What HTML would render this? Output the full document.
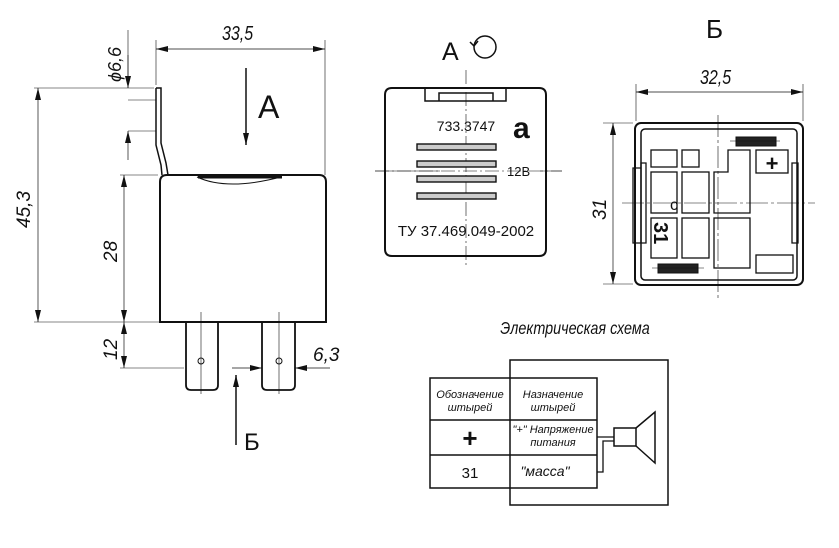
<!DOCTYPE html>
<html><head><meta charset="utf-8"><style>
html,body{margin:0;padding:0;background:#fff}
svg{display:block}
text{font-family:"Liberation Sans","DejaVu Sans",sans-serif;fill:#111}
.i{font-style:italic}
</style></head><body>
<svg width="839" height="548" viewBox="0 0 839 548" xmlns="http://www.w3.org/2000/svg">
<defs>
<marker id="a" viewBox="0 0 12 6" refX="12" refY="3" markerWidth="12" markerHeight="6" orient="auto-start-reverse" markerUnits="userSpaceOnUse"><path d="M0,0L12,3L0,6z" fill="#111"/></marker>
</defs>
<g stroke="#111" fill="none" stroke-width="1">
<path d="M160,322V182q0-7 7-7H319q7 0 7 7V322Z" stroke-width="2"/>
<path d="M197,177q30,14 84,0" stroke-width="1"/>
<path d="M198,177h84" stroke-width="3"/>
<path d="M156,88h5v55l5,20 2,12M156,88v57l5,20 1,10" stroke-width="1.5"/>
<path d="M186,322v63q0,5 5,5h22q5,0 5-5v-63M262,322v63q0,5 5,5h23q5,0 5-5v-63" stroke-width="1.8"/>
<circle cx="201" cy="361" r="3"/><circle cx="279" cy="361" r="3"/>
<path d="M201,312v82M279,312v82" stroke-width=".6"/>
<path d="M156,40v45M325,40v135" stroke-width=".6"/>
<path d="M156,49H325" marker-start="url(#a)" marker-end="url(#a)" stroke-width=".7"/>
<path d="M34,88h120M34,322h150M120,175h38M120,368h64" stroke-width=".6"/>
<path d="M38,88V322" marker-start="url(#a)" marker-end="url(#a)" stroke-width=".7"/>
<path d="M124,175V322" marker-start="url(#a)" marker-end="url(#a)" stroke-width=".7"/>
<path d="M124,322V368" marker-start="url(#a)" marker-end="url(#a)" stroke-width=".7"/>
<path d="M128,30V88M128,100h28M128,131h28" stroke-width=".6"/>
<path d="M128,55V88" marker-end="url(#a)" stroke-width=".7"/>
<path d="M128,160V131" marker-end="url(#a)" stroke-width=".7"/>
<path d="M232,368h30" marker-end="url(#a)" stroke-width=".7"/>
<path d="M330,368h-35" marker-end="url(#a)" stroke-width=".7"/>
<path d="M246,68V145" marker-end="url(#a)" stroke-width="1.5"/>
<path d="M236,445V375" marker-end="url(#a)" stroke-width="1.5"/>
<path d="M385,95q0-7 7-7H539q7 0 7 7V249q0 7-7 7H392q-7 0-7-7Z" stroke-width="2"/>
<path d="M425,88v13h81v-13M439,101v-8h54v8" stroke-width="1.5"/>
<path d="M375,171H440M540,171H562" stroke-width=".6"/>
<path d="M466,70V265M375,171H562" stroke-dasharray="14,3,2,3" stroke-width=".6"/>
<g stroke-width="1.4" fill="#ccc"><rect x="417" y="144" width="79" height="6"/><rect x="417" y="161" width="79" height="6"/><rect x="417" y="176" width="79" height="6"/><rect x="417" y="193" width="79" height="6"/></g>
<circle cx="485" cy="47" r="11" stroke-width="1.5"/>
<path d="M470,42l4,4 4-5" stroke-width="1.5"/>
<rect x="635" y="123" width="168" height="162" rx="6" stroke-width="2"/>
<rect x="641" y="129" width="156" height="151" rx="4" stroke-width="1.5"/>
<path d="M636,84v37M803,84v37M603,123h30M603,284h30" stroke-width=".6"/>
<path d="M636,92H803" marker-start="url(#a)" marker-end="url(#a)" stroke-width=".7"/>
<path d="M613,123V284" marker-start="url(#a)" marker-end="url(#a)" stroke-width=".7"/>
<path d="M718,115V298M622,203H815" stroke-dasharray="22,3,3,3" stroke-width=".6"/>
<g stroke-width="1.3">
<rect x="651" y="150" width="26" height="17"/><rect x="682" y="150" width="17" height="17"/>
<rect x="651" y="172" width="26" height="41"/><rect x="682" y="172" width="27" height="41"/>
<rect x="651" y="218" width="26" height="40"/><rect x="682" y="218" width="27" height="40"/>
<path d="M728,150h22v63h-36v-41h14Z"/>
<rect x="714" y="218" width="36" height="50"/>
<rect x="756" y="150" width="32" height="23"/><rect x="756" y="255" width="37" height="18"/>
<path d="M633,168h8v75h-8ZM641,163h5v80h-5ZM792,163h6v80h-6Z"/>
</g>
<rect x="736" y="137" width="40" height="9" fill="#222"/><rect x="658" y="264" width="40" height="9" fill="#222"/>
<path d="M730,141h50M652,268h52" stroke-width=".6"/>
<rect x="510" y="360" width="158" height="145" stroke-width="1.5"/>
<rect x="430" y="378" width="167" height="110" fill="#fff" stroke-width="1.5"/>
<path d="M510,378V488M430,420H597M430,455H597" stroke-width="1.5"/>
<rect x="614" y="428" width="22" height="18" stroke-width="1.5"/>
<path d="M636,428L655,412V463L636,446" stroke-width="1.5"/>
<path d="M597,437h17M597,472h6v-31h11" stroke-width="1.3"/>
</g>
<g class="i">
<text x="222" y="40" font-size="20" transform="translate(222,40) scale(.8,1) translate(-222,-40)">33,5</text>
<text x="700" y="84" font-size="20" transform="translate(700,84) scale(.8,1) translate(-700,-84)">32,5</text>
<text font-size="19" transform="translate(30,228) rotate(-90)">45,3</text>
<text font-size="19" transform="translate(117,262) rotate(-90)">28</text>
<text font-size="19" transform="translate(117,360) rotate(-90)">12</text>
<text font-size="18" transform="translate(121,82) rotate(-90)">ϕ6,6</text>
<text font-size="19" transform="translate(606,220) rotate(-90)">31</text>
<text x="313" y="361" font-size="19">6,3</text>
<text x="575" y="334" font-size="18" text-anchor="middle" transform="translate(575,334) scale(.8,1) translate(-575,-334)">Электрическая схема</text>
<text x="470" y="398" font-size="11" text-anchor="middle">Обозначение</text>
<text x="470" y="411" font-size="11" text-anchor="middle">штырей</text>
<text x="553" y="398" font-size="11" text-anchor="middle">Назначение</text>
<text x="553" y="411" font-size="11" text-anchor="middle">штырей</text>
<text x="553" y="433" font-size="11" text-anchor="middle">"+" Напряжение</text>
<text x="553" y="446" font-size="11" text-anchor="middle">питания</text>
<text x="545" y="476" font-size="14" text-anchor="middle">"масса"</text>
</g>
<text x="258" y="118" font-size="32">A</text>
<text x="244" y="450" font-size="24">Б</text>
<text x="442" y="60" font-size="25">A</text>
<text x="706" y="38" font-size="26">Б</text>
<text x="466" y="131" font-size="14" text-anchor="middle">733.3747</text>
<text x="513" y="138" font-size="30" font-weight="bold">a</text>
<text x="507" y="176" font-size="13">12B</text>
<text x="466" y="236" font-size="15" text-anchor="middle">ТУ 37.469.049-2002</text>
<text x="470" y="447" font-size="26" font-weight="bold" text-anchor="middle">+</text>
<text x="470" y="478" font-size="15" text-anchor="middle">31</text>
<text x="772" y="171" font-size="22" font-weight="bold" text-anchor="middle">+</text>
<text x="670" y="210" font-size="16">c</text>
<text font-size="20" font-weight="bold" transform="translate(654,222) rotate(90)">31</text>
</svg>
</body></html>
